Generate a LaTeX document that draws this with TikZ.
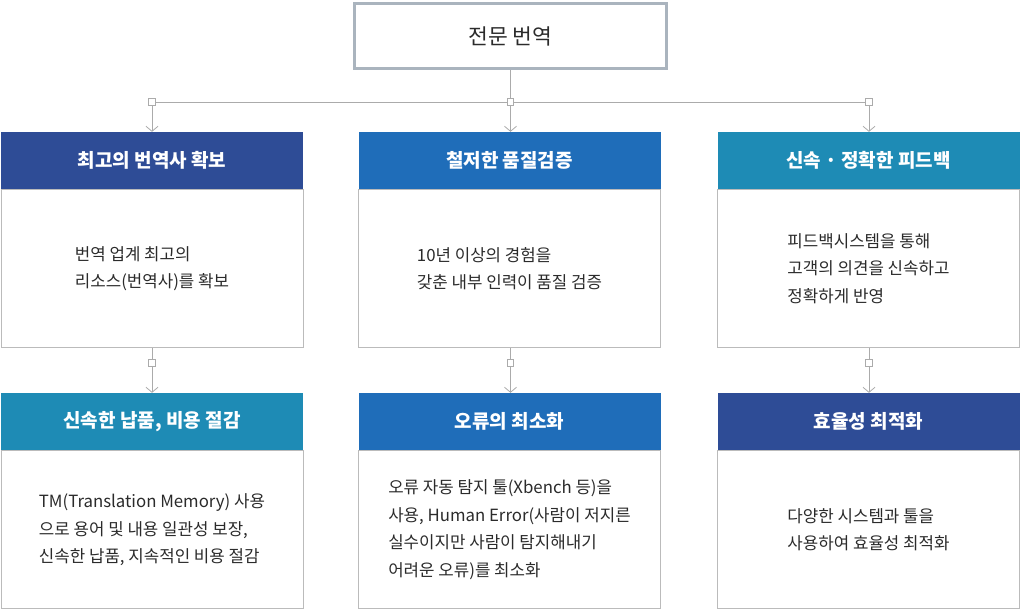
\documentclass[tikz,border=0pt]{standalone}
\usepackage{fontspec}
\setmainfont{Noto Sans CJK KR}
\usetikzlibrary{positioning,arrows.meta}
\definecolor{navy}{HTML}{2E4C96}
\definecolor{royal}{HTML}{1F6DB9}
\definecolor{teal}{HTML}{1E8BB5}
\definecolor{framegray}{HTML}{AAB4BE}
\definecolor{linegray}{HTML}{ABABAB}
\definecolor{boxgray}{HTML}{BBBBBB}
\definecolor{txt}{HTML}{2B2B2B}

\begin{document}
\begin{tikzpicture}[x=1pt,y=-1pt,
  title/.style={draw=framegray,line width=3pt,fill=white,minimum width=312pt,minimum height=65pt,text=txt,font=\fontsize{21.5}{25}\selectfont},
  head/.style={fill=#1,text=white,minimum width=302pt,minimum height=57pt,inner sep=0pt,font=\bfseries\fontsize{19}{22}\selectfont},
  body/.style={draw=boxgray,line width=1pt,minimum width=302pt,minimum height=158pt,inner sep=0pt,align=left,text=txt,font=\fontsize{16.8}{27.5}\selectfont},
  joint/.style={draw=linegray,fill=white,line width=0.8pt,minimum size=6.5pt,inner sep=0pt},
  link/.style={draw=linegray,line width=0.8pt},
  down/.style={link,-{Straight Barb[length=5pt,width=12pt,line width=0.8pt]}}]
\useasboundingbox (0,0) rectangle (1021,609);

% top
\node[title] (top) at (510.5,36) {전문 번역};

% first row
\node[head=navy] (qual) at (152,160.5) {최고의 번역사 확보};
\node[body,below=0pt of qual] (qualtxt) {번역 업계 최고의\\리소스(번역사)를 확보};
\node[head=royal] (check) at (509.5,160.5) {철저한 품질검증};
\node[body,below=0pt of check] (checktxt) {10년 이상의 경험을\\갖춘 내부 인력이 품질 검증};
\node[head=teal] (fast) at (868.5,160.5) {신속 · 정확한 피드백};
\node[body,below=0pt of fast] (fasttxt) {피드백시스템을 통해\\고객의 의견을 신속하고\\정확하게 반영};

% second row
\node[head=teal] (cost) at (152,421.5) {신속한 납품, 비용 절감};
\node[body,below=0pt of cost] (costtxt) {TM(Translation Memory) 사용\\으로 용어 및 내용 일관성 보장,\\신속한 납품, 지속적인 비용 절감};
\node[head=royal] (error) at (509.5,421.5) {오류의 최소화};
\node[body,below=0pt of error] (errortxt) {오류 자동 탐지 툴(Xbench 등)을\\사용, Human Error(사람이 저지른\\실수이지만 사람이 탐지해내기\\어려운 오류)를 최소화};
\node[head=navy] (effic) at (868.5,421.5) {효율성 최적화};
\node[body,below=0pt of effic] (effictxt) {다양한 시스템과 툴을\\사용하여 효율성 최적화};

% joints
\node[joint] (j1) at (152,102) {};
\node[joint] (j2) at (510.5,102) {};
\node[joint] (j3) at (869,102) {};
\node[joint] (k1) at (152,363) {};
\node[joint] (k2) at (510.5,363) {};
\node[joint] (k3) at (869,363) {};

% connectors
\draw[link] (top.south) -- (j2.north);
\draw[link] (j1.east) -- (j2.west);
\draw[link] (j2.east) -- (j3.west);
\draw[down] (j1.south) -- (j1.south |- qual.north);
\draw[down] (j2.south) -- (j2.south |- check.north);
\draw[down] (j3.south) -- (j3.south |- fast.north);
\draw[link] (k1.north |- qualtxt.south) -- (k1.north);
\draw[link] (k2.north |- checktxt.south) -- (k2.north);
\draw[link] (k3.north |- fasttxt.south) -- (k3.north);
\draw[down] (k1.south) -- (k1.south |- cost.north);
\draw[down] (k2.south) -- (k2.south |- error.north);
\draw[down] (k3.south) -- (k3.south |- effic.north);
\end{tikzpicture}
\end{document}
